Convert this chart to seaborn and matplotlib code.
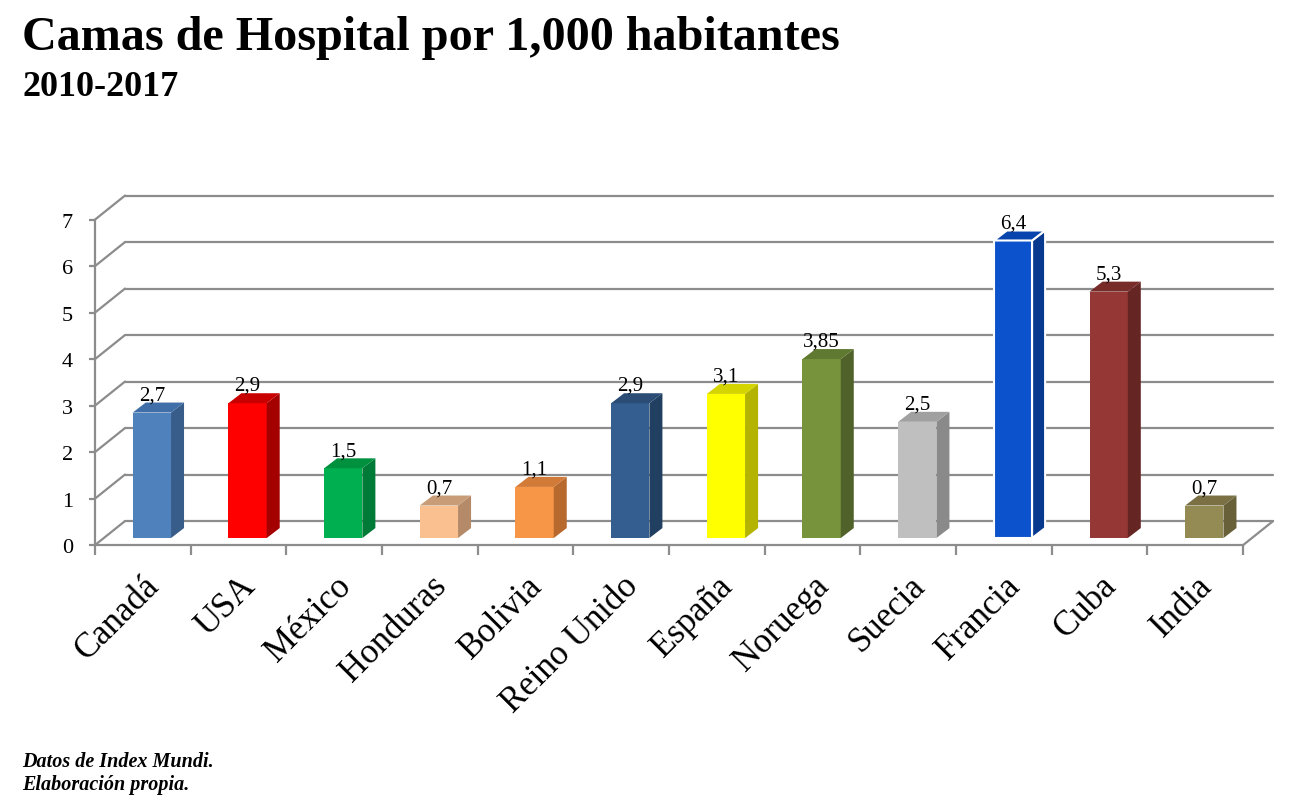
"""Camas de hospital por 1,000 habitantes (2010-2017): barras con efecto 3D."""

import matplotlib.pyplot as plt
import pandas as pd
import seaborn as sns
from matplotlib.patches import Polygon

paises = ["Canadá", "USA", "México", "Honduras", "Bolivia", "Reino Unido",
          "España", "Noruega", "Suecia", "Francia", "Cuba", "India"]
camas = [2.7, 2.9, 1.5, 0.7, 1.1, 2.9, 3.1, 3.85, 2.5, 6.4, 5.3, 0.7]
etiquetas = ["2,7", "2,9", "1,5", "0,7", "1,1", "2,9", "3,1", "3,85", "2,5", "6,4", "5,3", "0,7"]
color_frente = ["#4F81BD", "#FF0000", "#00B050", "#FAC090", "#F79646", "#335E8F",
                "#FFFF00", "#77933C", "#BFBFBF", "#0B52CC", "#953735", "#948A54"]
color_lado = ["#385D8A", "#A50000", "#007A37", "#B48A68", "#B86A2E", "#213F61",
              "#B3B300", "#50622A", "#8A8A8A", "#073A8F", "#652523", "#676038"]
color_tapa = ["#3F6EA8", "#C80000", "#00913F", "#C89C76", "#D27A38", "#2A4C75",
              "#D4D400", "#5F7A30", "#A0A0A0", "#0844AE", "#782C2A", "#7A7044"]

TITULO = "Camas de Hospital por 1,000 habitantes"
SUBTITULO = "2010-2017"
NOTA = ["Datos de Index Mundi.", "Elaboración propia."]

# profundidad de las barras y desplazamientos de los planos (unidades de datos)
DX, DY = 0.136, 0.215
FX, FY = -0.094, -0.15   # plano frontal (suelo / eje)
BX, BY = 0.219, 0.366    # pared del fondo
GRIS = "#8C8C8C"
YMAX = 7

sns.set_theme(style="white")
plt.rcParams["font.family"] = ["Liberation Serif", "DejaVu Serif"]
plt.rcParams["text.color"] = "black"
plt.rcParams["xtick.labelcolor"] = "black"
plt.rcParams["ytick.labelcolor"] = "black"

df = pd.DataFrame({"pais": paises, "camas": camas})

fig = plt.figure(figsize=(12.95, 8.03), dpi=100)
ax = fig.add_axes([0.0734, 0.3200, 0.9097, 0.4352])

sns.barplot(data=df, x="pais", y="camas", hue="pais", palette=color_frente,
            width=0.4, saturation=1, legend=False, ax=ax, zorder=3)

ax.set_xlim(-0.5 + FX, len(paises) - 0.5 + BX)
ax.set_ylim(FY, YMAX + BY)

# pared del fondo y pared lateral
for k in range(YMAX + 1):
    ax.plot([-0.5 + BX, len(paises) - 0.5 + BX], [k + BY, k + BY],
            color=GRIS, lw=1.6, zorder=1, clip_on=False)
    ax.plot([-0.5 + FX, -0.5 + BX], [k + FY, k + BY],
            color=GRIS, lw=1.6, zorder=1, clip_on=False)
# suelo: borde derecho
ax.plot([len(paises) - 0.5 + FX, len(paises) - 0.5 + BX], [FY, BY],
        color=GRIS, lw=1.6, zorder=1, clip_on=False)

# caras laterales y superiores
for i, bar in enumerate(ax.patches):
    x0 = bar.get_x()
    x1 = x0 + bar.get_width()
    h = bar.get_height()
    borde = "white" if paises[i] == "Francia" else "none"
    bar.set_edgecolor(borde)
    bar.set_linewidth(1.5)
    lado = Polygon([(x1, 0), (x1 + DX, DY), (x1 + DX, h + DY), (x1, h)],
                   closed=True, facecolor=color_lado[i], edgecolor=borde,
                   lw=1.5, zorder=3, clip_on=False)
    tapa = Polygon([(x0, h), (x0 + DX, h + DY), (x1 + DX, h + DY), (x1, h)],
                   closed=True, facecolor=color_tapa[i], edgecolor=borde,
                   lw=1.5, zorder=3, clip_on=False)
    ax.add_patch(lado)
    ax.add_patch(tapa)
    ax.text(x0 + bar.get_width() / 2, h + DY + 0.07, etiquetas[i],
            ha="center", va="baseline", fontsize=15, color="black", zorder=4)

# ejes
for s in ["top", "right"]:
    ax.spines[s].set_visible(False)
ax.spines["left"].set_bounds(FY, YMAX + FY)
ax.spines["bottom"].set_bounds(-0.5 + FX, len(paises) - 0.5 + FX)
for s in ["left", "bottom"]:
    ax.spines[s].set_color(GRIS)
    ax.spines[s].set_linewidth(1.6)

ax.set_yticks([k + FY for k in range(YMAX + 1)])
ax.set_yticklabels([str(k) for k in range(YMAX + 1)], fontsize=16)
ax.tick_params(axis="y", which="major", length=4, width=1.6, color=GRIS,
               direction="out", left=True, pad=12)

ax.set_xticks([i + FX for i in range(len(paises))])
ax.set_xticks([i - 0.5 + FX for i in range(len(paises) + 1)], minor=True)
ax.set_xticklabels(paises, fontsize=25, rotation=45, ha="right",
                   rotation_mode="anchor")
ax.tick_params(axis="x", which="major", length=0, pad=17, bottom=True)
ax.tick_params(axis="x", which="minor", length=7, width=1.6, color=GRIS,
               direction="out", bottom=True)
ax.set_xlabel("")
ax.set_ylabel("")
ax.grid(False)

fig.text(0.017, 0.9377, TITULO, fontsize=34.7, fontweight="bold", va="baseline")
fig.text(0.017, 0.8804, SUBTITULO, fontsize=26, fontweight="bold", va="baseline")
fig.text(0.017, 0.0448, NOTA[0], fontsize=14.5, fontweight="bold",
         fontstyle="italic", va="baseline")
fig.text(0.017, 0.0162, NOTA[1], fontsize=14.5, fontweight="bold",
         fontstyle="italic", va="baseline")

fig.savefig("out.png", dpi=100)
plt.close(fig)
